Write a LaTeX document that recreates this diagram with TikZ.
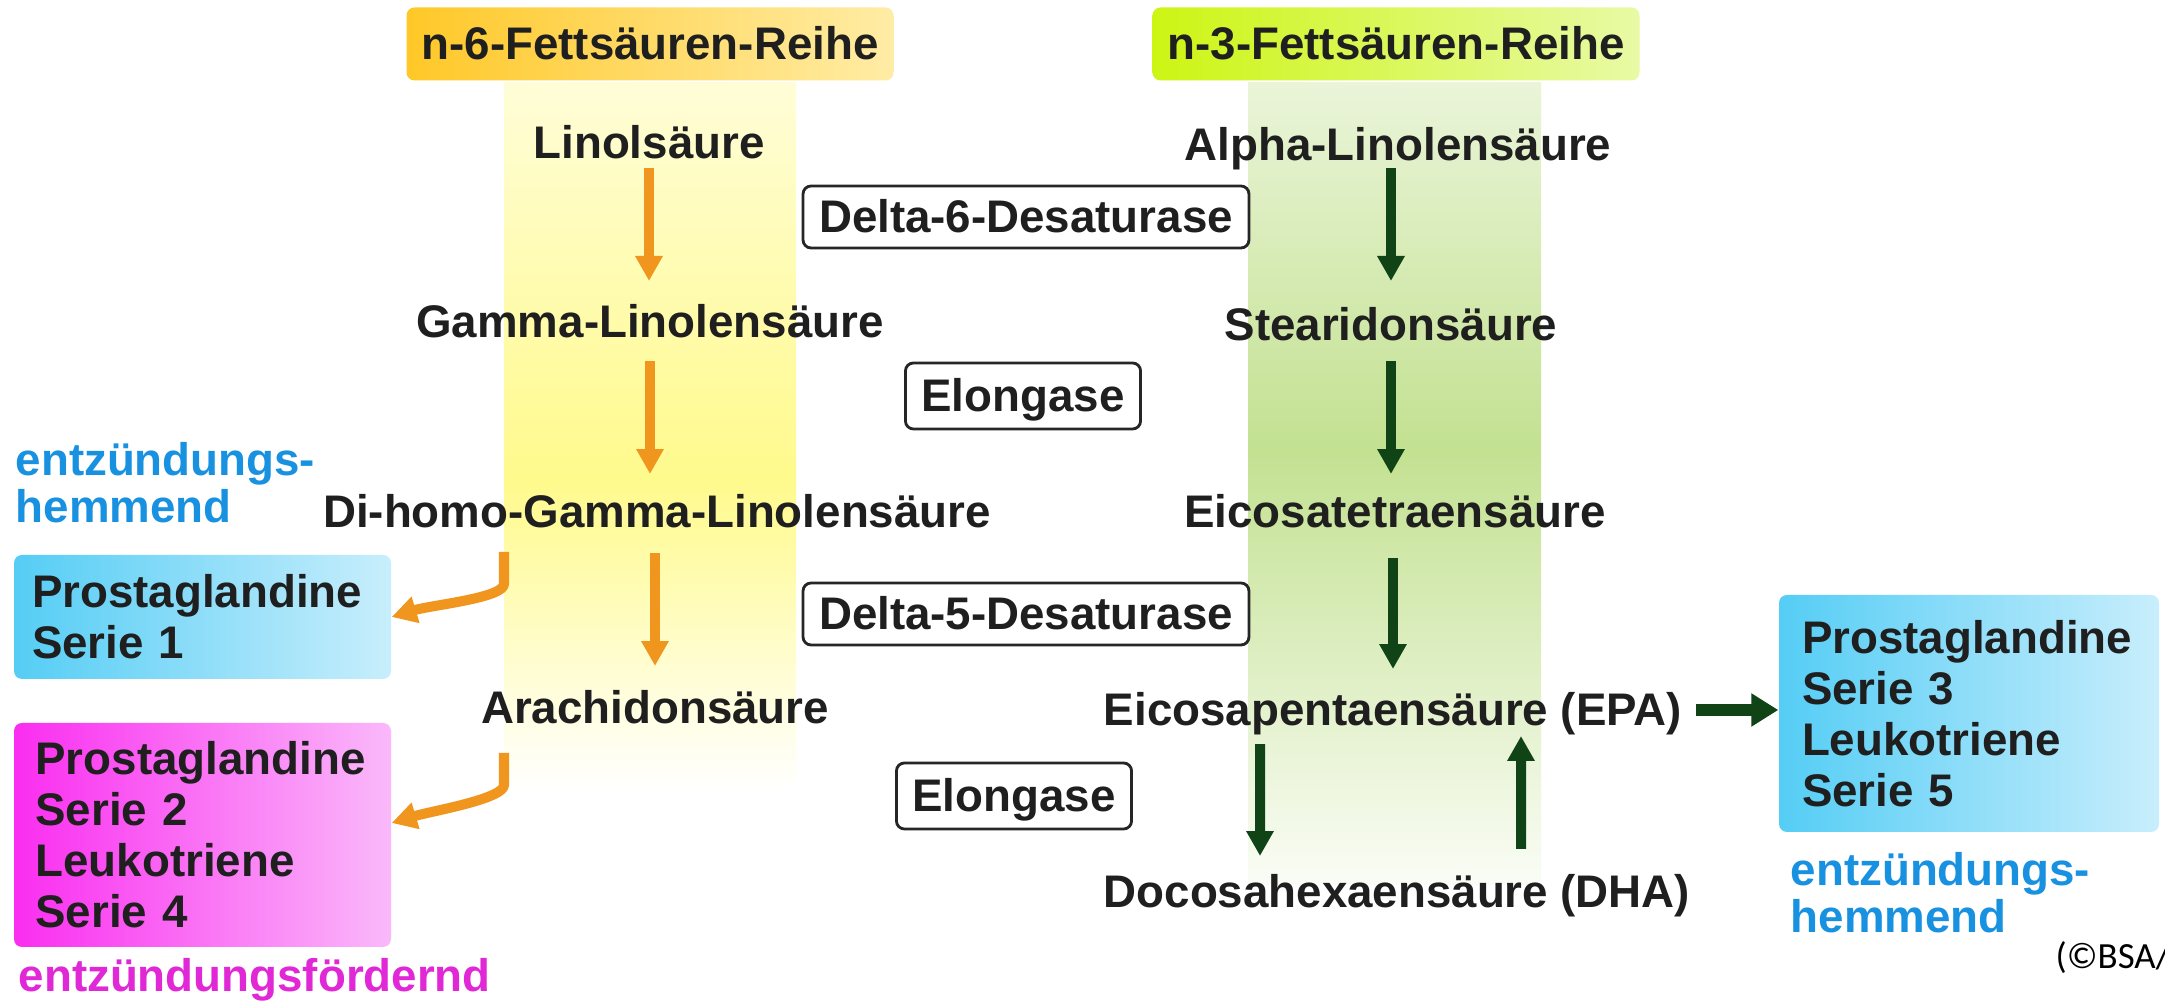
\documentclass[tikz,border=0pt]{standalone}
\usepackage{fontspec}
\setmainfont{Liberation Sans}
\newfontfamily\notefont{Carlito}
\usetikzlibrary{arrows.meta}
\definecolor{arrowor}{RGB}{240,150,30}
\definecolor{arrowgr}{RGB}{16,68,22}
\definecolor{coly}{RGB}{255,250,140}
\definecolor{colg}{RGB}{195,225,145}
\definecolor{nsixl}{RGB}{255,200,40}
\definecolor{nsixr}{RGB}{255,236,165}
\definecolor{nthreel}{RGB}{205,245,20}
\definecolor{nthreer}{RGB}{232,250,165}
\definecolor{cyanl}{RGB}{85,205,245}
\definecolor{cyanr}{RGB}{200,238,252}
\definecolor{magl}{RGB}{250,45,240}
\definecolor{magr}{RGB}{250,185,250}
\definecolor{bluetxt}{RGB}{25,145,225}
\definecolor{magtxt}{RGB}{225,40,215}
\tikzset{
  acid/.style = {font=\bfseries\fontsize{13}{14.5}\selectfont, text=black!88,
                 inner sep=0pt, text height=10pt, text depth=1pt},
  enzyme/.style = {acid, draw=black!85, line width=0.8pt, fill=white,
                   rounded corners=0.8mm, minimum height=6.2mm, inner xsep=1.6mm},
  header/.style = {acid, rounded corners=0.8mm, minimum height=7.3mm,
                   minimum width=48.7mm},
  effbox/.style = {font=\bfseries\fontsize{13}{14.5}\selectfont, text=black!88,
                   align=left, rounded corners=0.8mm, inner ysep=0pt},
  effect/.style = {font=\bfseries\fontsize{13}{13.4}\selectfont, align=left,
                   inner sep=0pt, anchor=west},
  pathtip/.style = {-{Triangle[width=7.4pt,length=7.1pt]}},
  oarrow/.style = {pathtip, draw=arrowor, line width=2.85pt, line join=round},
  garrow/.style = {pathtip, draw=arrowgr, line width=2.85pt}
}

\begin{document}
\begin{tikzpicture}[x=0.1mm, y=-0.1mm]
	\clip (0,0) rectangle (2165,1005);
	\fill[white] (0,0) rectangle (2165,1005);

	% Columns
	\shade[top color=coly!35, bottom color=coly] (504,83) rectangle (796,480);
	\shade[top color=coly, bottom color=white] (504,480) rectangle (796,790);
	\shade[top color=colg!35, bottom color=colg] (1248,83) rectangle (1541,450);
	\shade[top color=colg, bottom color=colg!8] (1248,450) rectangle (1541,885);

	% Headers
	\node[header, left color=nsixl, right color=nsixr] (nsix) at (650,44) {n-6-Fettsäuren-Reihe};
	\node[header, left color=nthreel, right color=nthreer] (nthree) at (1396,44) {n-3-Fettsäuren-Reihe};

	% n-6 series
	\node[acid] (lin) at (649,143) {Linolsäure};
	\node[acid] (gam) at (650,322) {Gamma-Linolensäure};
	\node[acid] (dih) at (657,512) {Di-homo-Gamma-Linolensäure};
	\node[acid] (ara) at (655,708) {Arachidonsäure};

	% n-3 series
	\node[acid] (alp) at (1398,145) {Alpha-Linolensäure};
	\node[acid] (ste) at (1391,325) {Stearidonsäure};
	\node[acid] (eic) at (1395,512) {Eicosatetraensäure};
	\node[acid] (epa) at (1393,710) {Eicosapentaensäure (EPA)};
	\node[acid] (dha) at (1397,892) {Docosahexaensäure (DHA)};

	% Enzymes
	\node[enzyme] (dsix) at (1026,217) {Delta-6-Desaturase};
	\node[enzyme, minimum height=6.6mm] (elo) at (1023,396) {Elongase};
	\node[enzyme] (dfive) at (1026,614) {Delta-5-Desaturase};
	\node[enzyme, minimum height=6.6mm] (elotwo) at (1014,796) {Elongase};

	% Products
	\node[effbox, left color=cyanl, right color=cyanr, text width=34.1mm, inner xsep=1.8mm,
	      minimum height=12.4mm] (pgone) at (202.5,617) {Prostaglandine\\Serie 1};
	\node[effbox, left color=magl, right color=magr, text width=33.4mm, inner xsep=2.15mm,
	      minimum height=22.4mm] (pgtwo) at (202.5,835) {Prostaglandine\\Serie 2\\Leukotriene\\Serie 4};
	\node[effbox, left color=cyanl, right color=cyanr, text width=33.4mm, inner xsep=2.3mm,
	      minimum height=23.7mm] (pgthree) at (1969,713.5) {Prostaglandine\\Serie 3\\Leukotriene\\Serie 5};

	% Effects
	\node[effect, text=bluetxt] (hemone) at (15,483) {entzündungs-\\hemmend};
	\node[effect, text=magtxt] (foerd) at (18,980) {entzündungsfördernd};
	\node[effect, text=bluetxt] (hemtwo) at (1790,893) {entzündungs-\\hemmend};
	\node[anchor=west, inner sep=0pt, font=\notefont\fontsize{10.5}{12}\selectfont] (note) at (2055,958) {(©BSA/D};

	% Conversions n-6
	\draw[oarrow, shorten <=0.5mm, shorten >=2.1mm] (lin.south) -- (lin.south |- gam.north);
	\draw[oarrow, shorten <=1.9mm, shorten >=1.8mm] (gam.south) -- (gam.south |- dih.north);
	\draw[oarrow, shorten <=2.1mm, shorten >=2.2mm] (ara.north |- dih.south) -- (ara.north);

	% Conversions n-3
	\draw[garrow, shorten <=0.3mm, shorten >=2.4mm] (ste.north |- alp.south) -- (ste.north);
	\draw[garrow, shorten <=1.6mm, shorten >=1.8mm] (ste.south) -- (ste.south |- eic.north);
	\draw[garrow, shorten <=2.6mm, shorten >=2.1mm] (epa.north |- eic.south) -- (epa.north);
	\draw[garrow, shorten <=1.4mm, shorten >=1.6mm] ([xshift=-13.3mm]epa.south) -- ([xshift=-13.7mm]dha.north);
	\draw[garrow, shorten <=2.3mm, shorten >=0.6mm] ([xshift=12.4mm]dha.north) -- ([xshift=12.8mm]epa.south);
	\draw[garrow, line width=3.4pt, -{Triangle[width=9pt,length=7.7pt]}, shorten <=1.3mm]
	     (epa.east) -- (epa.east -| pgthree.west);

	% Side products
	\coordinate (pgonestart) at (504,552);
	\coordinate (pgtwostart) at (504,753);
	\draw[oarrow] (pgonestart) -- ++(0,32) .. controls +(0,14) and +(40,-12) .. (pgone.east);
	\draw[oarrow] (pgtwostart) -- ++(0,32) .. controls +(0,14) and +(40,-12) .. ([yshift=1.2mm]pgtwo.east);
\end{tikzpicture}
\end{document}
